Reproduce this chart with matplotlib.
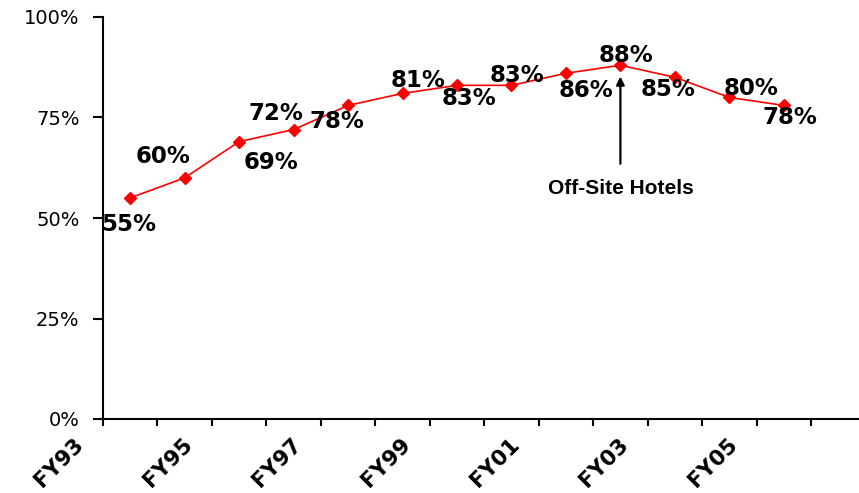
import matplotlib
matplotlib.use("Agg")
import matplotlib.pyplot as plt
import matplotlib.transforms as mtransforms
from matplotlib.ticker import FixedLocator, FuncFormatter

# Ocupacion por año fiscal
years = ["FY93", "FY94", "FY95", "FY96", "FY97", "FY98", "FY99",
         "FY00", "FY01", "FY02", "FY03", "FY04", "FY05"]
occupancy = [55, 60, 69, 72, 78, 81, 83, 83, 86, 88, 85, 80, 78]
y_ticks = [0, 25, 50, 75, 100]
note_text = "Off-Site Hotels"
note_year = "FY02"

# desplazamiento (pixeles) de cada etiqueta respecto a su punto
label_offsets = [(-2, -27), (-22, 21), (32, -21), (-18, 16), (-11, -16),
                 (16, 13), (12, -13), (6, 10), (20, -17), (6, 10),
                 (-7, -12), (22, 9), (6, -12)]

fig = plt.figure(figsize=(8.59, 4.93), dpi=100)
ax = fig.add_axes([103 / 859, 74 / 493, 756 / 859, 402 / 493])

x = list(range(len(years)))
ax.plot(x, occupancy, color="red", lw=1.2, marker="D", markersize=6,
        markerfacecolor="red", markeredgecolor="red", zorder=3)

for xi, v, (dx, dy) in zip(x, occupancy, label_offsets):
    ax.annotate(f"{v}%", (xi, v), xytext=(dx, dy), textcoords="offset pixels",
                ha="center", va="center", fontsize=16.5, fontweight="bold",
                family="DejaVu Sans", color="black")

# flecha y nota
xn = years.index(note_year)
ax.annotate("", xy=(xn, 85.2), xytext=(xn, 63.5),
            arrowprops=dict(arrowstyle="-|>", color="black", lw=1.6,
                            mutation_scale=12, shrinkA=0, shrinkB=0))
ax.text(xn, 57.3, note_text, ha="center", va="center", fontsize=15,
        fontweight="bold", family="Liberation Sans")

# ejes
right_lim = 12.5 + 48 / 54.46
ax.set_xlim(-0.5, right_lim)
ax.set_ylim(0, 100)

for side in ["top", "right"]:
    ax.spines[side].set_visible(False)
ax.spines["left"].set_linewidth(1.5)
ax.spines["bottom"].set_linewidth(1.5)

ax.set_yticks(y_ticks)
ax.yaxis.set_major_formatter(FuncFormatter(lambda v, p: f"{int(v)}%"))
ax.tick_params(axis="y", direction="out", length=7, width=1.5, pad=10,
               labelsize=14)
for lab in ax.get_yticklabels():
    lab.set_family("DejaVu Sans")

# marcas entre categorias, etiquetas cada dos años
ax.xaxis.set_minor_locator(FixedLocator([i - 0.5 for i in range(len(years) + 1)]))
ax.tick_params(axis="x", which="minor", direction="out", length=5, width=1.5)
ax.set_xticks(x[::2])
ax.set_xticklabels(years[::2], rotation=45, ha="right", va="center",
                   rotation_mode="anchor", fontsize=15.5, fontweight="bold",
                   family="DejaVu Sans")
ax.tick_params(axis="x", which="major", length=0, pad=16)
shift = mtransforms.ScaledTranslation(-50 / 100, 0, fig.dpi_scale_trans)
for lab in ax.get_xticklabels():
    lab.set_transform(lab.get_transform() + shift)

fig.savefig("out.png", dpi=100)
